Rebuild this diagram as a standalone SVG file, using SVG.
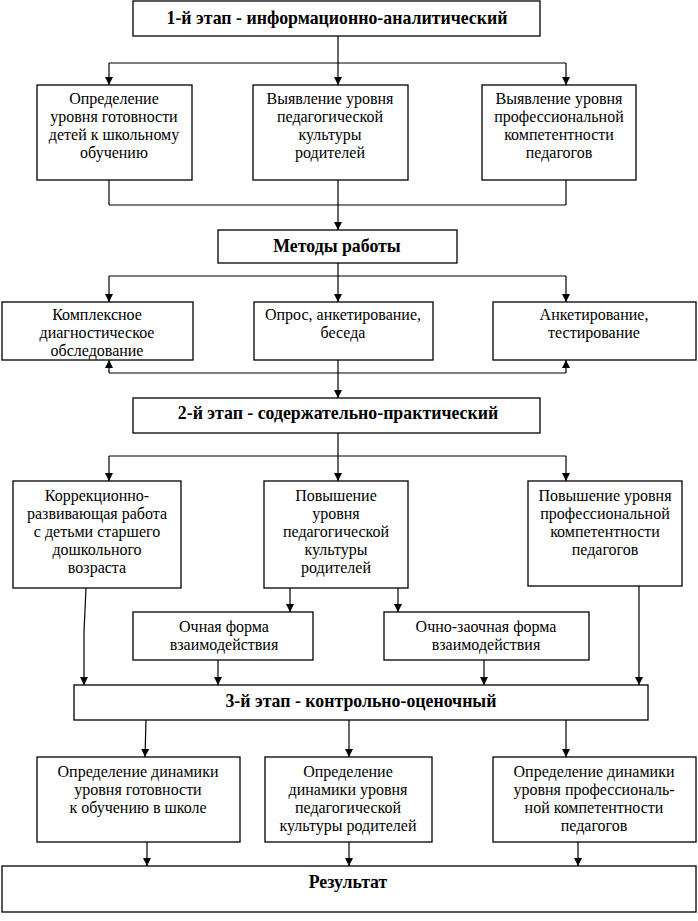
<svg xmlns="http://www.w3.org/2000/svg" width="698" height="921" viewBox="0 0 698 921">
<defs>
<marker id="ah" viewBox="0 0 8 10" refX="8" refY="5" markerWidth="8" markerHeight="10" markerUnits="userSpaceOnUse" orient="auto">
<path d="M0,1 L8,5 L0,9 Z" fill="#000"/>
</marker>
<style>
rect{fill:#fff;stroke:#000;stroke-width:1.3}
text{font-family:'Liberation Serif','Times New Roman',serif;font-size:16px;fill:#000;text-anchor:middle}
.t{font-size:17.8px;font-weight:bold}
#conn line,#conn polyline{stroke:#000;stroke-width:1.2;fill:none}
.a{marker-end:url(#ah)}
</style>
</defs>
<rect x="0" y="0" width="698" height="921" style="fill:#fff;stroke:none"/>
<g id="conn">
<line x1="338" y1="36" x2="338" y2="63"/>
<line x1="109" y1="63" x2="566" y2="63"/>
<line class="a" x1="109" y1="63" x2="109" y2="85"/>
<line class="a" x1="338" y1="63" x2="338" y2="85"/>
<line class="a" x1="566" y1="63" x2="566" y2="85"/>
<line x1="109" y1="180" x2="109" y2="205"/>
<line x1="566" y1="180" x2="566" y2="205"/>
<line x1="109" y1="205" x2="566" y2="205"/>
<line class="a" x1="338" y1="180" x2="338" y2="230"/>
<line x1="338" y1="263" x2="338" y2="276"/>
<line x1="109" y1="276" x2="566" y2="276"/>
<line class="a" x1="109" y1="276" x2="109" y2="302"/>
<line class="a" x1="338" y1="276" x2="338" y2="302"/>
<line class="a" x1="566" y1="276" x2="566" y2="302"/>
<line x1="109" y1="373" x2="566" y2="373"/>
<line class="a" x1="109" y1="373" x2="109" y2="360"/>
<line class="a" x1="566" y1="373" x2="566" y2="360"/>
<line class="a" x1="338" y1="360" x2="338" y2="398"/>
<line x1="338" y1="433" x2="338" y2="456"/>
<line x1="109" y1="456" x2="566" y2="456"/>
<line class="a" x1="109" y1="456" x2="109" y2="481"/>
<line class="a" x1="338" y1="456" x2="338" y2="481"/>
<line class="a" x1="566" y1="456" x2="566" y2="481"/>
<line class="a" x1="290" y1="588" x2="290" y2="612"/>
<line class="a" x1="398" y1="588" x2="398" y2="612"/>
<polyline class="a" points="86,588 84,632 84,685"/>
<line class="a" x1="639" y1="586" x2="639" y2="685"/>
<line class="a" x1="218" y1="660" x2="218" y2="685"/>
<line class="a" x1="484" y1="660" x2="484" y2="685"/>
<line class="a" x1="146" y1="720" x2="145" y2="757"/>
<line class="a" x1="349" y1="720" x2="349" y2="757"/>
<line class="a" x1="566" y1="720" x2="566" y2="757"/>
<line class="a" x1="147" y1="842" x2="147" y2="866"/>
<line class="a" x1="349" y1="842" x2="349" y2="866"/>
<line class="a" x1="578" y1="842" x2="578" y2="866"/>
</g>
<g id="stage1"><rect x="133" y="1" width="407" height="35"/><text class="t" x="337" y="24">1-й этап - информационно-аналитический</text></g>
<g id="r1a"><rect x="37" y="85" width="155" height="95"/><text x="114" y="104">Определение</text><text x="114" y="122">уровня готовности</text><text x="114" y="140">детей к школьному</text><text x="114" y="158">обучению</text></g>
<g id="r1b"><rect x="253" y="85" width="155" height="95"/><text x="330" y="104">Выявление уровня</text><text x="330" y="122">педагогической</text><text x="330" y="140">культуры</text><text x="330" y="158">родителей</text></g>
<g id="r1c"><rect x="482" y="85" width="154" height="95"/><text x="559" y="104">Выявление уровня</text><text x="559" y="122">профессиональной</text><text x="559" y="140">компетентности</text><text x="559" y="158">педагогов</text></g>
<g id="methods"><rect x="218" y="230" width="239" height="33"/><text class="t" x="337" y="252">Методы работы</text></g>
<g id="r2a"><rect x="2" y="302" width="191" height="58"/><text x="97" y="320">Комплексное</text><text x="97" y="338">диагностическое</text><text x="97" y="356">обследование</text></g>
<g id="r2b"><rect x="254" y="302" width="179" height="58"/><text x="343" y="320">Опрос, анкетирование,</text><text x="343" y="338">беседа</text></g>
<g id="r2c"><rect x="493" y="302" width="203" height="58"/><text x="594" y="320">Анкетирование,</text><text x="594" y="338">тестирование</text></g>
<g id="stage2"><rect x="133" y="398" width="407" height="35"/><text class="t" x="338" y="419">2-й этап - содержательно-практический</text></g>
<g id="r3a"><rect x="13" y="481" width="168" height="107"/><text x="97" y="501">Коррекционно-</text><text x="97" y="519">развивающая работа</text><text x="97" y="537">с детьми старшего</text><text x="97" y="555">дошкольного</text><text x="97" y="573">возраста</text></g>
<g id="r3b"><rect x="264" y="481" width="144" height="107"/><text x="336" y="501">Повышение</text><text x="336" y="519">уровня</text><text x="336" y="537">педагогической</text><text x="336" y="555">культуры</text><text x="336" y="573">родителей</text></g>
<g id="r3c"><rect x="528" y="481" width="154" height="105"/><text x="605" y="501">Повышение уровня</text><text x="605" y="519">профессиональной</text><text x="605" y="537">компетентности</text><text x="605" y="555">педагогов</text></g>
<g id="form1"><rect x="133" y="612" width="180" height="48"/><text x="224" y="632">Очная форма</text><text x="224" y="650">взаимодействия</text></g>
<g id="form2"><rect x="384" y="612" width="205" height="48"/><text x="486" y="632">Очно-заочная форма</text><text x="486" y="650">взаимодействия</text></g>
<g id="stage3"><rect x="74" y="685" width="574" height="35"/><text class="t" x="361" y="707">3-й этап - контрольно-оценочный</text></g>
<g id="r4a"><rect x="37" y="757" width="203" height="85"/><text x="138" y="777">Определение динамики</text><text x="138" y="795">уровня готовности</text><text x="138" y="813">к обучению в школе</text></g>
<g id="r4b"><rect x="265" y="757" width="167" height="85"/><text x="348" y="777">Определение</text><text x="348" y="795">динамики уровня</text><text x="348" y="813">педагогической</text><text x="348" y="831">культуры родителей</text></g>
<g id="r4c"><rect x="493" y="757" width="203" height="85"/><text x="594" y="777">Определение динамики</text><text x="594" y="795">уровня профессиональ-</text><text x="594" y="813">ной компетентности</text><text x="594" y="831">педагогов</text></g>
<g id="result"><rect x="2" y="866" width="694" height="46"/><text class="t" x="348" y="888">Результат</text></g>
</svg>
